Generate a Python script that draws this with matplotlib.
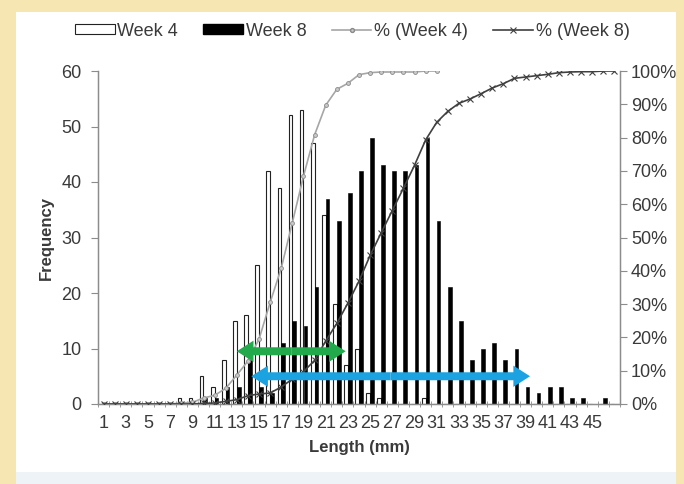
import matplotlib
matplotlib.use("Agg")
import matplotlib.pyplot as plt
from matplotlib.patches import Patch, Rectangle, FancyArrow
from matplotlib.lines import Line2D
from matplotlib.ticker import FuncFormatter, FixedLocator

plt.rcParams["font.family"] = ["Liberation Sans", "DejaVu Sans"]

# ---- data ----
lengths = list(range(1, 48))  # 1..47 mm classes

week4 = [0, 0, 0, 0, 0, 0, 0, 1, 1, 5, 3, 8, 15, 16, 25, 42, 39, 52, 53, 47,
         34, 18, 7, 10, 2, 1, 0, 0, 0, 1, 0, 0, 0, 0, 0, 0, 0, 0, 0, 0,
         0, 0, 0, 0, 0, 0, 0]
week8 = [0, 0, 0, 0, 0, 0, 0, 0, 0, 1, 1, 3, 3, 8, 3, 2, 11, 15, 14, 21,
         37, 33, 38, 42, 48, 43, 42, 42, 43, 48, 33, 21, 15, 8, 10, 11, 8, 10, 3, 2,
         3, 3, 1, 1, 0, 1, 0]

# cumulative percentages as drawn (week 4 line stops at 31 mm)
cum4_len = list(range(1, 32))
cum4 = [0, 0, 0, 0, 0, 0, 0, 0.3, 0.5, 1.8, 2.6, 4.7, 8.7, 12.9, 19.5, 30.5,
        40.8, 54.5, 68.4, 80.8, 89.7, 94.5, 96.3, 98.9, 99.5, 99.7, 99.7, 99.7,
        99.7, 100, 100]
cum8_len = list(range(1, 48))
cum8 = [0, 0, 0, 0, 0, 0, 0, 0, 0, 0.2, 0.3, 0.8, 1.3, 2.5, 3.0, 3.3, 5.1, 7.5,
        9.7, 13.1, 18.9, 24.2, 30.3, 36.9, 44.6, 51.4, 58.1, 64.8, 71.7, 79.3,
        84.6, 87.9, 90.3, 91.6, 93.2, 94.9, 96.2, 97.8, 98.2, 98.6, 99.0, 99.5,
        99.7, 99.8, 99.8, 100, 100]

tick_labels = [str(v) for v in range(1, 46, 2)]

# ranges highlighted by the arrows: (from, to, at frequency)
range_week4 = (13.0, 22.8, 9.5)
range_week8 = (14.3, 39.4, 5.0)

# ---- style ----
TXT = "#3a3a3a"
AXC = "#8c8c8c"
GREEN = "#21A94B"
BLUE = "#1BA3E1"
GREY_LINE = "#a6a6a6"
DARK_LINE = "#404040"

fig = plt.figure(figsize=(6.84, 4.84), dpi=100)
fig.patch.set_facecolor("#F6E6B2")
fig.patches.append(Rectangle((16 / 684, 0), (676 - 16) / 684, 1 - 12 / 484,
                             transform=fig.transFigure, facecolor="white",
                             edgecolor="none", zorder=-10))
fig.patches.append(Rectangle((16 / 684, 0), (676 - 16) / 684, 12 / 484,
                             transform=fig.transFigure, facecolor="#EEF3F8",
                             edgecolor="none", zorder=-9))

ax = fig.add_axes([98 / 684, 80 / 484, (620 - 98) / 684, (404 - 71) / 484])
ax.patch.set_alpha(0)

off, bw = 0.17, 0.33
x4 = [v - off for v in lengths]
x8 = [v + off for v in lengths]
ax.bar(x4, week4, width=bw, facecolor="white", edgecolor="#222222", linewidth=0.8, zorder=2)
ax.bar(x8, week8, width=bw, facecolor="black", edgecolor="black", linewidth=0.4, zorder=2)

ax.set_xlim(0.5, 47.5)
ax.set_ylim(0, 60)
ax.set_yticks(range(0, 61, 10))
ax.set_xticks(range(1, 46, 2))
ax.set_xticklabels(tick_labels)
ax.xaxis.set_minor_locator(FixedLocator([k + 0.5 for k in range(0, 48)]))
ax.tick_params(axis="x", which="major", length=0, pad=8, labelsize=13, labelcolor=TXT)
ax.tick_params(axis="x", which="minor", length=4, direction="inout", color=AXC)
ax.tick_params(axis="y", length=5, direction="out", color=AXC, labelsize=13,
               labelcolor=TXT, pad=7)

ax.spines["top"].set_visible(False)
for s in ("left", "bottom", "right"):
    ax.spines[s].set_color(AXC)
    ax.spines[s].set_linewidth(1.0)

ax.set_ylabel("Frequency", fontsize=12, fontweight="bold", color=TXT, labelpad=5)
ax.set_xlabel("Length (mm)", fontsize=12, fontweight="bold", color=TXT, labelpad=6)

ax2 = ax.twinx()
ax2.set_ylim(0, 100)
ax2.set_yticks(range(0, 101, 10))
ax2.yaxis.set_major_formatter(FuncFormatter(lambda v, p: f"{int(v)}%"))
ax2.tick_params(axis="y", length=5, direction="out", color=AXC, labelsize=13,
                labelcolor=TXT, pad=3)
ax2.spines["top"].set_visible(False)
for s in ("left", "bottom", "right"):
    ax2.spines[s].set_color(AXC)

ax2.plot(cum4_len, cum4, color=GREY_LINE, lw=1.2, marker="o", ms=2.8,
         mfc="#c8c8c8", mec="#8a8a8a", mew=0.6, zorder=3)
ax2.plot(cum8_len, cum8, color=DARK_LINE, lw=1.2, marker="x", ms=4.5,
         mew=0.8, zorder=3)

# double-headed range arrows, drawn as two halves from the middle
def range_arrow(a, b, y, color):
    mid = (a + b) / 2
    yy = y / 60 * 100  # to the percent axis
    for end in (a, b):
        ax2.add_patch(FancyArrow(mid, yy, end - mid, 0, width=2.4, head_width=6.4,
                                 head_length=1.5, length_includes_head=True,
                                 color=color, lw=0, zorder=5))

range_arrow(*range_week4[:2], range_week4[2], GREEN)
range_arrow(*range_week8[:2], range_week8[2], BLUE)

handles = [
    Patch(facecolor="white", edgecolor="#222222", linewidth=0.8),
    Patch(facecolor="black", edgecolor="black"),
    Line2D([], [], color=GREY_LINE, lw=1.2, marker="o", ms=2.8, mfc="#c8c8c8", mec="#8a8a8a"),
    Line2D([], [], color=DARK_LINE, lw=1.2, marker="x", ms=4.5, mew=0.8),
]
labels = ["Week 4", "Week 8", "% (Week 4)", "% (Week 8)"]
fig.legend(handles, labels, loc="center", bbox_to_anchor=(0.515, 1 - 31 / 484),
           ncol=4, frameon=False, fontsize=13, handlelength=2.2,
           handleheight=0.5, handletextpad=0.15, columnspacing=1.4,
           labelcolor=TXT)

fig.savefig("out.png", dpi=100, facecolor=fig.get_facecolor())
